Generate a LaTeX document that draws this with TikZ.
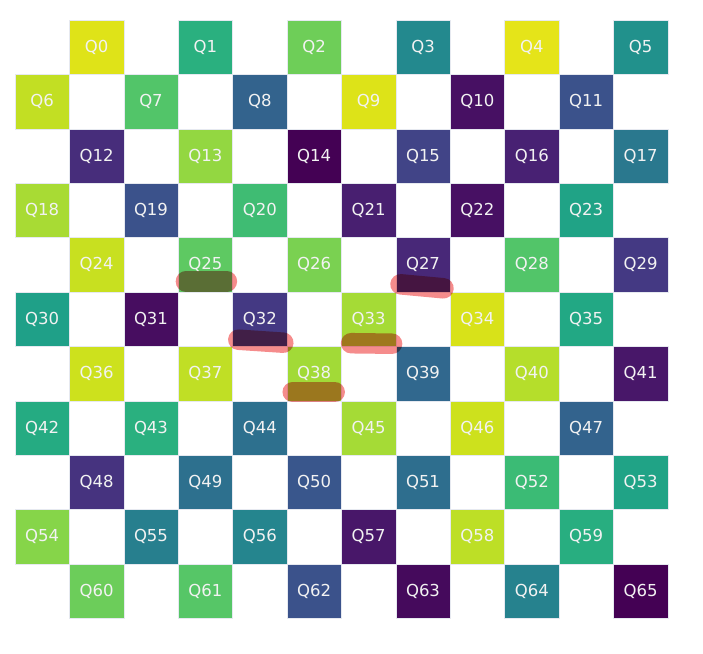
\documentclass[tikz,border=0pt]{standalone}
\usepackage{fontspec}
\setmainfont{DejaVu Sans}
\usetikzlibrary{positioning, calc}
\definecolor{edgec}{HTML}{E6E9F0}
\definecolor{labelc}{HTML}{F2F2F2}
\definecolor{markc}{HTML}{F58C8C}
\newcommand{\CellF}{\fontsize{16.5}{18}\selectfont}

\tikzset{
  cell/.style={draw=edgec, line width=0.6pt, minimum size=54.4pt, inner sep=0pt,
               text=labelc, font=\CellF},
  hilite/.style={draw=markc, line width=20.5pt, line cap=round, blend mode=multiply}
}

\begin{document}
\begin{tikzpicture}[x=1pt, y=-1pt]
  \useasboundingbox (0,0) rectangle (703,653);
  % cells, six per row, shifted one column on odd rows
  \foreach \n/\hex in {0/DFE318, 1/2AB07F, 2/6ECE58, 3/23898E, 4/E5E419, 5/21918C,
      6/C2DF23, 7/52C569, 8/33638D, 9/DDE318, 10/471063, 11/3B528B,
      12/472D7B, 13/93D741, 14/440154, 15/414487, 16/482173, 17/2A788E,
      18/A8DB34, 19/3B528B, 20/3FBC73, 21/481F70, 22/471063, 23/20A386,
      24/C8E020, 25/5EC962, 26/7AD151, 27/482878, 28/52C569, 29/443983,
      30/1FA088, 31/470D60, 32/443983, 33/A5DB36, 34/D8E219, 35/22A884,
      36/CDE11D, 37/C0DF25, 38/A2DA37, 39/31688E, 40/B5DE2B, 41/481769,
      42/25AB82, 43/2AB07F, 44/2D708E, 45/A5DB36, 46/CDE11D, 47/33638D,
      48/46337F, 49/2D708E, 50/39568C, 51/2E6E8E, 52/3BBB75, 53/20A386,
      54/86D549, 55/277F8E, 56/25858E, 57/481769, 58/BDDF26, 59/28AE80,
      60/6CCD5A, 61/56C667, 62/3B528B, 63/450A5C, 64/26828E, 65/440154} {
    \pgfmathtruncatemacro{\row}{int(\n/6)}
    \pgfmathtruncatemacro{\col}{2*mod(\n,6)+1-mod(\row,2)}
    \definecolor{cellc}{HTML}{\hex}
    \node[cell, fill=cellc] (q\n) at ({15+(\col+0.5)*54.4}, {20+(\row+0.5)*54.4}) {Q\n};
  }
  % marker strokes
  \draw[hilite] ([xshift=8pt, yshift=11pt]q25.south west) -- ([xshift=-6pt, yshift=11pt]q25.south east);
  \draw[hilite] ([xshift=5pt, yshift=8pt]q27.south west) -- ([xshift=-7pt, yshift=4pt]q27.south east);
  \draw[hilite] ([xshift=6pt, yshift=7pt]q32.south west) -- ([xshift=-4pt, yshift=4pt]q32.south east);
  \draw[hilite] ([xshift=10pt, yshift=3.5pt]q33.south west) -- ([xshift=-4pt, yshift=3pt]q33.south east);
  \draw[hilite] ([xshift=6pt, yshift=9pt]q38.south west) -- ([xshift=-7pt, yshift=9pt]q38.south east);
\end{tikzpicture}
\end{document}
